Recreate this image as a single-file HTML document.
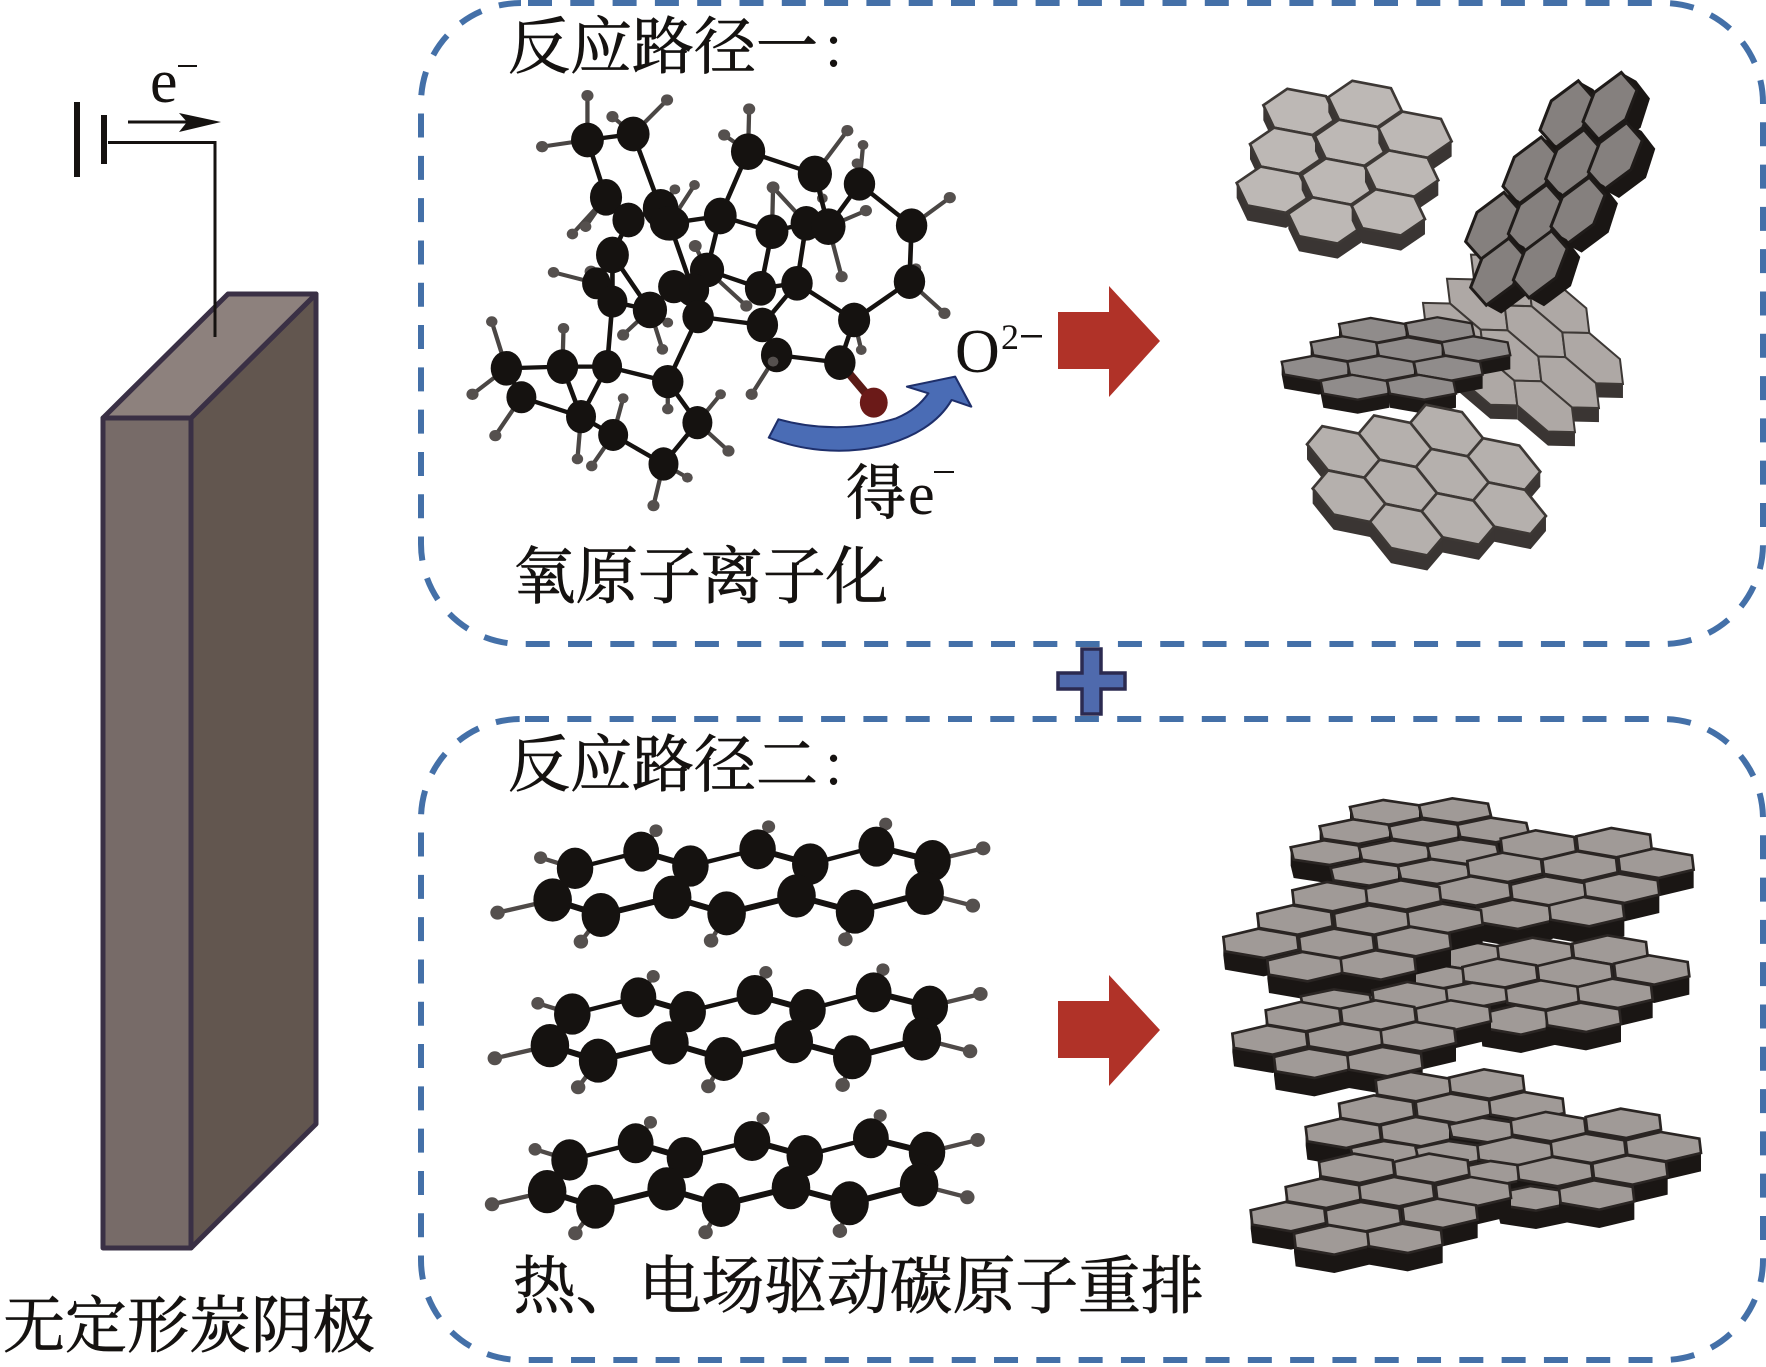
<!DOCTYPE html>
<html><head><meta charset="utf-8"><style>
html,body{margin:0;padding:0;background:#fff}
svg{display:block}
text{font-family:"Liberation Serif","Noto Serif CJK SC",serif;fill:#151210}
.c{stroke:#151210;stroke-width:.8}
</style></head><body>
<svg xmlns="http://www.w3.org/2000/svg" xmlns:xlink="http://www.w3.org/1999/xlink" width="1766" height="1367" viewBox="0 0 1766 1367">
<defs>
<g id="t1"><polygon points="-38,-69 78,-47 110,20 110,65 38,114 -78,92 -110,25 -110,-20" fill="#3a3533"/><polygon points="-38,-69 78,-47 110,20 38,69 -78,47 -110,-20" fill="#bdb8b5" stroke="#3d3835" stroke-width="8"/></g>
<g id="t4"><polygon points="-63,-77 46,-55 109,23 109,68 63,122 -46,100 -109,22 -109,-23" fill="#3a3533"/><polygon points="-63,-77 46,-55 109,23 63,77 -46,55 -109,-23" fill="#b5b0ad" stroke="#3d3835" stroke-width="8"/></g>
<g id="t2"><polygon points="34,-100 79,-75 120,-22 92,65 11,125 -34,100 -81,47 -47,-40" fill="#1a1614"/><polygon points="34,-100 81,-47 47,40 -34,100 -81,47 -47,-40" fill="#85807e" stroke="#1f1b19" stroke-width="9"/></g>
<g id="t3"><polygon points="-103,-19 -8,-37 95,-19 103,19 103,61 8,79 -95,61 -103,19" fill="#1c1816"/><polygon points="-103,-19 -8,-37 95,-19 103,19 8,37 -95,19" fill="#908c8b" stroke="#2a2523" stroke-width="7"/></g>
<g id="t5"><polygon points="-91,-77 -10,-75 82,3 91,77 91,119 10,117 -82,39 -82,-3" fill="#3a3533"/><polygon points="-91,-77 -10,-75 82,3 91,77 10,75 -82,-3" fill="#aea8a5" stroke="#3d3835" stroke-width="6"/></g>
<g id="s"><polygon points="-108,-16 -8,-37 99,-21 108,16 108,71 8,92 -99,76 -108,39" fill="#1a1614"/><polygon points="-108,-16 -8,-37 99,-21 108,16 8,37 -99,21" fill="#a09a97" stroke="#2a2523" stroke-width="8"/></g>
<g id="b"><polygon points="-113,-19 -8,-44 108,-24 113,19 113,74 8,99 -108,79 -113,36" fill="#1a1614"/><polygon points="-113,-19 -8,-44 108,-24 113,19 8,44 -108,24" fill="#a09a97" stroke="#2a2523" stroke-width="8"/></g>
<g id="mol">
<path d="M240,270L80,308M305,175L205,143M497,125L540,62M835,118L867,50M1180,110L1207,42M1343,152L1490,115M1320,250L1460,287M380,315L322,395M745,310L700,392M1118,305L1090,388" stroke="#4f4a48" stroke-width="13" fill="none"/>
<g fill="#55504e"><circle cx="80" cy="308" r="21"/><circle cx="205" cy="143" r="19"/><circle cx="540" cy="62" r="19"/><circle cx="867" cy="50" r="19"/><circle cx="1207" cy="42" r="19"/><circle cx="1490" cy="115" r="21"/><circle cx="1460" cy="287" r="21"/><circle cx="322" cy="395" r="21"/><circle cx="700" cy="392" r="21"/><circle cx="1090" cy="388" r="21"/></g>
<path d="M305,175L497,125M640,168L835,118M988,162L1180,110" stroke="#151210" stroke-width="13" fill="none"/>
<path d="M497,125L640,168M835,118L988,162M1180,110L1343,152L1320,250L1118,305L948,258L745,310L587,262L380,315L240,270L305,175M640,168L587,262M988,162L948,258" stroke="#151210" stroke-width="18" fill="none" stroke-linejoin="round"/>
<g fill="#151210"><ellipse cx="305" cy="175" rx="53" ry="62"/><ellipse cx="497" cy="125" rx="52" ry="60"/><ellipse cx="640" cy="168" rx="53" ry="62"/><ellipse cx="835" cy="118" rx="53" ry="60"/><ellipse cx="988" cy="162" rx="53" ry="62"/><ellipse cx="1180" cy="110" rx="52" ry="60"/><ellipse cx="1343" cy="152" rx="53" ry="62"/><ellipse cx="240" cy="270" rx="56" ry="65"/><ellipse cx="380" cy="315" rx="56" ry="66"/><ellipse cx="587" cy="262" rx="56" ry="65"/><ellipse cx="745" cy="310" rx="56" ry="66"/><ellipse cx="948" cy="258" rx="56" ry="65"/><ellipse cx="1118" cy="305" rx="56" ry="66"/><ellipse cx="1320" cy="250" rx="56" ry="65"/></g>
</g>
</defs>

<!-- panels -->
<g fill="none" stroke="#4470a8" stroke-width="6" stroke-dasharray="24 18.3">
<rect x="421" y="3" width="1342" height="641" rx="100" ry="100" stroke-dashoffset="-7"/>
<rect x="421" y="719" width="1342" height="641" rx="100" ry="100" stroke-dashoffset="-4"/>
</g>

<!-- cuboid -->
<g stroke="#3a3045" stroke-width="5" stroke-linejoin="round">
<polygon points="191,418 316,294 316,1124 191,1248" fill="#62564f"/>
<polygon points="103,418 228,294 316,294 191,418" fill="#8d817d"/>
<rect x="103" y="418" width="88" height="830" fill="#776b68"/>
</g>
<!-- battery -->
<path d="M77,102V177M104,115V164" stroke="#151210" stroke-width="6" fill="none"/>
<path d="M108,142.5H215V337" stroke="#151210" stroke-width="3" fill="none"/>
<path d="M128,122H195" stroke="#151210" stroke-width="3" fill="none"/>
<polygon points="179,113 221,122 179,132 187,122" fill="#151210"/>
<text x="150" y="102" font-size="62">e</text>
<rect x="178" y="65" width="19" height="2" fill="#151210"/>

<!-- plus -->
<path d="M1082,649H1101V673H1125V689H1101V714H1082V689H1058V673H1082Z" fill="#4f6aad" stroke="#2b2a50" stroke-width="3.5"/>

<!-- red arrows -->
<polygon points="1058,312 1109,312 1109,286 1160,341 1109,397 1109,369 1058,369" fill="#b03228"/>
<polygon points="1058,1001 1109,1001 1109,975 1160,1030 1109,1086 1109,1058 1058,1058" fill="#b03228"/>

<!-- molecule 1 -->
<g transform="translate(450,60) scale(.357,.3333)">
<path d="M385,240L385,107M385,240L258,260M513,222L455,170M513,222L608,120M835,275L838,147M835,275L768,225M1022,342L1113,212M1147,372L1157,255M1147,372L1140,310M1293,497L1400,413M1287,665L1385,760M1060,500L1165,452M1060,500L1097,650M902,515L905,382M998,490L905,382M1022,342L1043,415M615,490L685,375M590,445L630,388M437,412L380,500M437,412L343,522M410,670L290,637M410,670L395,635M455,725L395,635M720,630L687,558M720,630L830,738M560,750L485,825M560,750L610,788M560,750L595,868M158,925L117,785M315,920L318,805M158,925L63,1003M200,1012L127,1127M367,1070L357,1197M457,1125L397,1218M457,1125L485,1015M610,965L610,1047M693,1088L758,1003M693,1088L780,1173M598,1212L665,1253M598,1212L570,1337M915,885L845,1003M915,885L905,905M1132,780L1152,870M1287,665L1305,625" stroke="#4a4644" stroke-width="12" fill="none"/>
<g fill="#55504e"><circle cx="385" cy="107" r="17"/><circle cx="258" cy="260" r="17"/><circle cx="455" cy="170" r="17"/><circle cx="608" cy="120" r="17"/><circle cx="838" cy="147" r="17"/><circle cx="768" cy="225" r="17"/><circle cx="1113" cy="212" r="17"/><circle cx="1157" cy="255" r="15"/><circle cx="1140" cy="310" r="15"/><circle cx="1400" cy="413" r="17"/><circle cx="1385" cy="760" r="17"/><circle cx="1165" cy="452" r="17"/><circle cx="1097" cy="650" r="17"/><circle cx="905" cy="382" r="18"/><circle cx="1043" cy="415" r="15"/><circle cx="685" cy="375" r="15"/><circle cx="630" cy="388" r="15"/><circle cx="380" cy="500" r="16"/><circle cx="343" cy="522" r="16"/><circle cx="290" cy="637" r="16"/><circle cx="395" cy="635" r="18"/><circle cx="687" cy="558" r="18"/><circle cx="830" cy="738" r="17"/><circle cx="485" cy="825" r="17"/><circle cx="610" cy="788" r="15"/><circle cx="595" cy="868" r="16"/><circle cx="117" cy="785" r="16"/><circle cx="318" cy="805" r="16"/><circle cx="63" cy="1003" r="17"/><circle cx="127" cy="1127" r="17"/><circle cx="357" cy="1197" r="16"/><circle cx="397" cy="1218" r="16"/><circle cx="485" cy="1015" r="15"/><circle cx="610" cy="1047" r="16"/><circle cx="758" cy="1003" r="15"/><circle cx="780" cy="1173" r="17"/><circle cx="665" cy="1253" r="15"/><circle cx="570" cy="1337" r="17"/><circle cx="845" cy="1003" r="17"/><circle cx="1152" cy="870" r="15"/><circle cx="1305" cy="625" r="15"/></g>
<path d="M385,240L513,222M385,240L437,412M513,222L590,445M437,412L500,480L590,445L615,490L757,468L835,275L1022,342L1060,500M1147,372L1060,500M1147,372L1293,497L1287,665L1132,780L972,670L870,685M972,670L875,795L695,770M875,795L915,885L1092,908L1132,780M757,468L902,515L998,490L1060,500M757,468L720,630M615,490L680,690M902,515L870,685M998,490L972,670M720,630L870,685M500,480L455,585L455,725M455,585L560,750M455,725L560,750L627,680L720,630M695,770L610,965M455,725L440,920L315,920L158,925L200,1012L367,1070L440,920M440,920L610,965L693,1088L598,1212L457,1125L367,1070M315,920L367,1070" stroke="#151210" stroke-width="13" fill="none" stroke-linejoin="round"/>
<path d="M1092,908L1187,1028" stroke="#5a1a16" stroke-width="24"/>
<g fill="#151210"><ellipse cx="385" cy="240" rx="46" ry="52"/><ellipse cx="513" cy="222" rx="46" ry="52"/><ellipse cx="437" cy="412" rx="45" ry="55"/><ellipse cx="500" cy="480" rx="45" ry="52"/><ellipse cx="590" cy="445" rx="50" ry="58"/><ellipse cx="615" cy="490" rx="55" ry="52"/><ellipse cx="757" cy="468" rx="46" ry="55"/><ellipse cx="835" cy="275" rx="48" ry="55"/><ellipse cx="1022" cy="342" rx="48" ry="55"/><ellipse cx="1147" cy="372" rx="44" ry="50"/><ellipse cx="902" cy="515" rx="46" ry="52"/><ellipse cx="998" cy="490" rx="44" ry="52"/><ellipse cx="1060" cy="500" rx="48" ry="55"/><ellipse cx="1293" cy="497" rx="44" ry="52"/><ellipse cx="1287" cy="665" rx="44" ry="52"/><ellipse cx="1132" cy="780" rx="45" ry="52"/><ellipse cx="972" cy="670" rx="44" ry="52"/><ellipse cx="870" cy="685" rx="44" ry="52"/><ellipse cx="875" cy="795" rx="44" ry="52"/><ellipse cx="915" cy="885" rx="44" ry="52"/><ellipse cx="1092" cy="908" rx="44" ry="52"/><ellipse cx="720" cy="630" rx="48" ry="52"/><ellipse cx="680" cy="690" rx="46" ry="50"/><ellipse cx="627" cy="680" rx="44" ry="50"/><ellipse cx="695" cy="770" rx="44" ry="50"/><ellipse cx="560" cy="750" rx="48" ry="55"/><ellipse cx="455" cy="585" rx="46" ry="55"/><ellipse cx="410" cy="670" rx="40" ry="48"/><ellipse cx="455" cy="725" rx="42" ry="48"/><ellipse cx="440" cy="920" rx="42" ry="50"/><ellipse cx="315" cy="920" rx="44" ry="52"/><ellipse cx="158" cy="925" rx="44" ry="52"/><ellipse cx="200" cy="1012" rx="42" ry="48"/><ellipse cx="367" cy="1070" rx="42" ry="50"/><ellipse cx="457" cy="1125" rx="42" ry="48"/><ellipse cx="610" cy="965" rx="44" ry="50"/><ellipse cx="693" cy="1088" rx="42" ry="50"/><ellipse cx="598" cy="1212" rx="42" ry="50"/></g>
<circle cx="905" cy="905" r="15" fill="#55504e"/>
<ellipse cx="1187" cy="1028" rx="39" ry="45" fill="#6b1a18"/>
<path d="M893,1133L920,1078C1010,1105 1130,1115 1250,1075C1295,1055 1320,1030 1340,1000L1280,980L1415,950L1460,1040L1405,1020C1370,1085 1300,1135 1200,1160C1090,1185 980,1170 893,1133Z" fill="#4a6cb5" stroke="#1e2f6b" stroke-width="6" stroke-linejoin="round"/>
</g>

<!-- sheets top-right -->
<g transform="translate(1200,60) scale(.3333,.335)">
<use xlink:href="#t1" x="300" y="155"/><use xlink:href="#t1" x="495" y="131"/>
<use xlink:href="#t1" x="260" y="271"/><use xlink:href="#t1" x="455" y="247"/><use xlink:href="#t1" x="645" y="223"/>
<use xlink:href="#t1" x="220" y="387"/><use xlink:href="#t1" x="415" y="363"/><use xlink:href="#t1" x="605" y="339"/>
<use xlink:href="#t1" x="375" y="479"/><use xlink:href="#t1" x="565" y="455"/>

<use xlink:href="#t5" x="904" y="658"/>
<use xlink:href="#t5" x="1077" y="738"/><use xlink:href="#t5" x="832" y="730"/>
<use xlink:href="#t5" x="1005" y="810"/><use xlink:href="#t5" x="760" y="802"/>
<use xlink:href="#t5" x="1178" y="890"/><use xlink:href="#t5" x="933" y="882"/>
<use xlink:href="#t5" x="1106" y="962"/><use xlink:href="#t5" x="861" y="954"/>
<use xlink:href="#t5" x="1034" y="1034"/>

<use xlink:href="#t3" x="520" y="807"/><use xlink:href="#t3" x="720" y="805"/>
<use xlink:href="#t3" x="435" y="862"/><use xlink:href="#t3" x="632" y="865"/><use xlink:href="#t3" x="828" y="862"/>
<use xlink:href="#t3" x="348" y="920"/><use xlink:href="#t3" x="545" y="920"/><use xlink:href="#t3" x="745" y="920"/>
<use xlink:href="#t3" x="465" y="977"/><use xlink:href="#t3" x="665" y="977"/>

<use xlink:href="#t2" x="1101" y="162"/><use xlink:href="#t2" x="1230" y="137"/>
<use xlink:href="#t2" x="990" y="330"/><use xlink:href="#t2" x="1118" y="308"/><use xlink:href="#t2" x="1246" y="287"/>
<use xlink:href="#t2" x="878" y="495"/><use xlink:href="#t2" x="1006" y="472"/><use xlink:href="#t2" x="1134" y="450"/>
<use xlink:href="#t2" x="893" y="632"/><use xlink:href="#t2" x="1021" y="610"/>

<use xlink:href="#t4" x="740" y="1106"/><use xlink:href="#t4" x="585" y="1138"/><use xlink:href="#t4" x="430" y="1170"/>
<use xlink:href="#t4" x="912" y="1206"/><use xlink:href="#t4" x="757" y="1238"/><use xlink:href="#t4" x="602" y="1270"/><use xlink:href="#t4" x="447" y="1302"/>
<use xlink:href="#t4" x="929" y="1338"/><use xlink:href="#t4" x="774" y="1370"/><use xlink:href="#t4" x="619" y="1402"/>
</g>

<!-- molecules bottom -->
<g transform="translate(470,810) scale(.3444,.3333)">
<use xlink:href="#mol"/>
<use xlink:href="#mol" x="-8" y="437"/>
<use xlink:href="#mol" x="-16" y="875"/>
</g>

<!-- sheets bottom-right -->
<g transform="translate(1210,780) scale(.33333)">
<use xlink:href="#s" x="528" y="97"/><use xlink:href="#s" x="735" y="92"/>
<use xlink:href="#s" x="437" y="155"/><use xlink:href="#s" x="645" y="155"/><use xlink:href="#s" x="850" y="150"/>
<use xlink:href="#s" x="350" y="218"/><use xlink:href="#s" x="555" y="218"/><use xlink:href="#s" x="760" y="215"/>
<use xlink:href="#s" x="470" y="280"/><use xlink:href="#s" x="672" y="275"/>
<use xlink:href="#b" x="985" y="195"/><use xlink:href="#b" x="1212" y="188"/>
<use xlink:href="#b" x="885" y="262"/><use xlink:href="#b" x="1110" y="258"/><use xlink:href="#b" x="1338" y="250"/>
<use xlink:href="#b" x="790" y="333"/><use xlink:href="#b" x="1015" y="333"/><use xlink:href="#b" x="1235" y="325"/>
<use xlink:href="#b" x="915" y="403"/><use xlink:href="#b" x="1130" y="395"/>

<use xlink:href="#b" x="765" y="525"/><use xlink:href="#b" x="975" y="517"/><use xlink:href="#b" x="1200" y="510"/>
<use xlink:href="#s" x="680" y="590"/><use xlink:href="#b" x="870" y="580"/><use xlink:href="#b" x="1095" y="577"/><use xlink:href="#b" x="1325" y="570"/>
<use xlink:href="#s" x="795" y="645"/><use xlink:href="#b" x="1000" y="645"/><use xlink:href="#b" x="1215" y="640"/>
<use xlink:href="#b" x="925" y="720"/><use xlink:href="#b" x="1120" y="712"/>

<use xlink:href="#b" x="360" y="350"/><use xlink:href="#b" x="580" y="345"/>
<use xlink:href="#b" x="255" y="420"/><use xlink:href="#b" x="485" y="420"/><use xlink:href="#b" x="705" y="415"/>
<use xlink:href="#b" x="153" y="490"/><use xlink:href="#b" x="380" y="490"/><use xlink:href="#b" x="610" y="485"/>
<use xlink:href="#b" x="285" y="560"/><use xlink:href="#b" x="505" y="555"/>

<use xlink:href="#s" x="380" y="665"/><use xlink:href="#b" x="600" y="650"/>
<use xlink:href="#b" x="280" y="710"/><use xlink:href="#b" x="505" y="705"/><use xlink:href="#b" x="730" y="705"/>
<use xlink:href="#b" x="180" y="780"/><use xlink:href="#b" x="405" y="775"/><use xlink:href="#b" x="625" y="770"/>
<use xlink:href="#b" x="305" y="850"/><use xlink:href="#b" x="525" y="845"/>

<use xlink:href="#b" x="610" y="920"/><use xlink:href="#b" x="830" y="912"/>
<use xlink:href="#b" x="500" y="990"/><use xlink:href="#b" x="730" y="985"/><use xlink:href="#b" x="950" y="980"/>
<use xlink:href="#b" x="400" y="1060"/><use xlink:href="#b" x="625" y="1055"/><use xlink:href="#s" x="825" y="1050"/>
<use xlink:href="#b" x="1015" y="1040"/><use xlink:href="#b" x="1240" y="1030"/>
<use xlink:href="#s" x="530" y="1120"/><use xlink:href="#s" x="725" y="1120"/>
<use xlink:href="#b" x="915" y="1115"/><use xlink:href="#b" x="1135" y="1105"/><use xlink:href="#b" x="1360" y="1100"/>
<use xlink:href="#s" x="850" y="1180"/><use xlink:href="#b" x="1035" y="1175"/><use xlink:href="#b" x="1260" y="1170"/>
<use xlink:href="#s" x="970" y="1255"/><use xlink:href="#b" x="1160" y="1245"/>

<use xlink:href="#b" x="440" y="1165"/><use xlink:href="#b" x="665" y="1165"/>
<use xlink:href="#b" x="340" y="1240"/><use xlink:href="#b" x="560" y="1235"/><use xlink:href="#b" x="790" y="1235"/>
<use xlink:href="#b" x="235" y="1310"/><use xlink:href="#b" x="460" y="1310"/><use xlink:href="#b" x="690" y="1300"/>
<use xlink:href="#b" x="365" y="1380"/><use xlink:href="#b" x="585" y="1375"/>
</g>

<!-- text -->
<text class="c" x="508" y="68" font-size="62">反应路径一</text>
<text x="825" y="66" font-size="62">:</text>
<text class="c" x="508" y="786" font-size="62">反应路径二</text>
<text x="825" y="784" font-size="62">:</text>
<text class="c" x="513" y="598" font-size="62.5">氧原子离子化</text>
<text class="c" x="513" y="1308" font-size="62.8">热、电场驱动碳原子重排</text>
<text class="c" x="3" y="1347" font-size="62">无定形炭阴极</text>
<text class="c" x="846" y="514" font-size="60">得</text>
<text x="908" y="514" font-size="60">e</text>
<rect x="934" y="471" width="20" height="2" fill="#151210"/>
<text x="955" y="372" font-size="62">O</text>
<text x="1001" y="349" font-size="36">2</text>
<rect x="1021" y="335" width="21" height="2.5" fill="#151210"/>
</svg>
</body></html>
